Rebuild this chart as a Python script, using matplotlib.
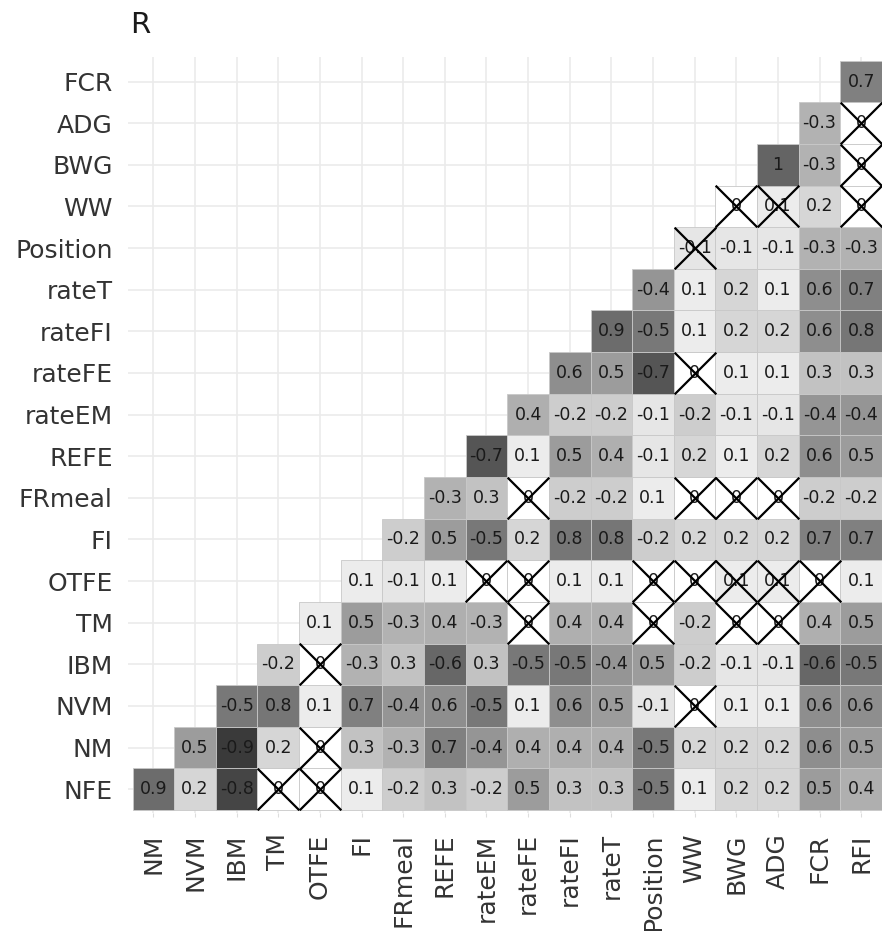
import numpy as np
import matplotlib
matplotlib.use("Agg")
import matplotlib.pyplot as plt
from matplotlib.patches import Rectangle

# Column (x) labels and row (y) labels, bottom row first
cols = ["NM", "NVM", "IBM", "TM", "OTFE", "FI", "FRmeal", "REFE", "rateEM",
        "rateFE", "rateFI", "rateT", "Position", "WW", "BWG", "ADG", "FCR", "RFI"]
rows = ["NFE", "NM", "NVM", "IBM", "TM", "OTFE", "FI", "FRmeal", "REFE",
        "rateEM", "rateFE", "rateFI", "rateT", "Position", "WW", "BWG", "ADG", "FCR"]

# Correlation values; row i covers columns i..17
r_NFE = [0.9, 0.2, -0.8, 0.0, 0.0, 0.1, -0.2, 0.3, -0.2, 0.5, 0.3, 0.3, -0.5, 0.1, 0.2, 0.2, 0.5, 0.4]
r_NM = [0.5, -0.9, 0.2, 0.0, 0.3, -0.3, 0.7, -0.4, 0.4, 0.4, 0.4, -0.5, 0.2, 0.2, 0.2, 0.6, 0.5]
r_NVM = [-0.5, 0.8, 0.1, 0.7, -0.4, 0.6, -0.5, 0.1, 0.6, 0.5, -0.1, 0.0, 0.1, 0.1, 0.6, 0.6]
r_IBM = [-0.2, 0.0, -0.3, 0.3, -0.6, 0.3, -0.5, -0.5, -0.4, 0.5, -0.2, -0.1, -0.1, -0.6, -0.5]
r_TM = [0.1, 0.5, -0.3, 0.4, -0.3, 0.0, 0.4, 0.4, 0.0, -0.2, 0.0, 0.0, 0.4, 0.5]
r_OTFE = [0.1, -0.1, 0.1, 0.0, 0.0, 0.1, 0.1, 0.0, 0.0, 0.1, 0.1, 0.0, 0.1]
r_FI = [-0.2, 0.5, -0.5, 0.2, 0.8, 0.8, -0.2, 0.2, 0.2, 0.2, 0.7, 0.7]
r_FRmeal = [-0.3, 0.3, 0.0, -0.2, -0.2, 0.1, 0.0, 0.0, 0.0, -0.2, -0.2]
r_REFE = [-0.7, 0.1, 0.5, 0.4, -0.1, 0.2, 0.1, 0.2, 0.6, 0.5]
r_rateEM = [0.4, -0.2, -0.2, -0.1, -0.2, -0.1, -0.1, -0.4, -0.4]
r_rateFE = [0.6, 0.5, -0.7, 0.0, 0.1, 0.1, 0.3, 0.3]
r_rateFI = [0.9, -0.5, 0.1, 0.2, 0.2, 0.6, 0.8]
r_rateT = [-0.4, 0.1, 0.2, 0.1, 0.6, 0.7]
r_Position = [-0.1, -0.1, -0.1, -0.3, -0.3]
r_WW = [0.0, 0.1, 0.2, 0.0]
r_BWG = [1.0, -0.3, 0.0]
r_ADG = [-0.3, 0.0]
r_FCR = [0.7]
values = [r_NFE, r_NM, r_NVM, r_IBM, r_TM, r_OTFE, r_FI, r_FRmeal, r_REFE,
          r_rateEM, r_rateFE, r_rateFI, r_rateT, r_Position, r_WW, r_BWG, r_ADG, r_FCR]

# Non-significant cells (crossed), as (row, column)
crossed = [("NFE", "TM"), ("NFE", "OTFE"), ("NM", "OTFE"), ("NVM", "WW"),
           ("IBM", "OTFE"), ("TM", "rateFE"), ("TM", "Position"), ("TM", "BWG"),
           ("TM", "ADG"), ("OTFE", "rateEM"), ("OTFE", "rateFE"), ("OTFE", "Position"),
           ("OTFE", "WW"), ("OTFE", "BWG"), ("OTFE", "ADG"), ("OTFE", "FCR"),
           ("FRmeal", "rateFE"), ("FRmeal", "WW"), ("FRmeal", "BWG"), ("FRmeal", "ADG"),
           ("rateFE", "WW"), ("Position", "WW"), ("WW", "BWG"), ("WW", "ADG"),
           ("WW", "RFI"), ("BWG", "RFI"), ("ADG", "RFI")]

# grey scale of the fill (positive and negative map to different darkness)
anchor_r = [-1.0, -0.9, -0.8, -0.7, -0.5, -0.3, -0.2, -0.1, 0.0, 0.1, 0.2, 0.3, 0.5, 0.7, 0.9, 1.0]
anchor_g = [50, 58, 69, 85, 120, 178, 205, 230, 255, 236, 214, 194, 156, 128, 108, 100]

def fill(r):
    g = np.interp(r, anchor_r, anchor_g) / 255.0
    return (g, g, g)

plt.rcParams['font.family'] = ['DejaVu Sans']
fig = plt.figure(figsize=(8.82, 9.31), dpi=100)
ax = fig.add_axes([128 / 882, (931 - 812.5) / 931, 754 / 882, 755.5 / 931])

crossed_set = set(crossed)
cross_x, cross_y = [], []
for i, row in enumerate(rows):
    for k, v in enumerate(values[i]):
        j = i + k
        ax.add_patch(Rectangle((j - 0.5, i - 0.5), 1, 1, facecolor=fill(v),
                               edgecolor='#c8c8c8', linewidth=0.6, zorder=2))
        lab = f"{v:g}"
        ax.text(j, i, lab, ha='center', va='center', fontsize=12.5,
                color='#1a1a1a', zorder=3)
        if (row, cols[j]) in crossed_set:
            cross_x.append(j)
            cross_y.append(i)

ax.scatter(cross_x, cross_y, marker='x', s=900, c='black', linewidths=1.6, zorder=4)

ax.set_xlim(-0.61, 17.5)
ax.set_ylim(-0.56, 17.59)
ax.set_xticks(range(len(cols)))
ax.set_xticklabels(cols, rotation=90, fontsize=18, color='#333333')
ax.set_yticks(range(len(rows)))
ax.set_yticklabels(rows, fontsize=18, color='#333333')
ax.tick_params(axis='x', length=3, color='#dddddd', pad=12)
ax.tick_params(axis='y', length=0, pad=11)
ax.grid(True, color='#ebebeb', linewidth=1.2, zorder=0)
ax.set_axisbelow(True)
for s in ax.spines.values():
    s.set_visible(False)

fig.text(130 / 882, (931 - 33) / 931, "R", fontsize=21, ha='left', va='baseline', color='#1a1a1a')

fig.savefig("out.png", dpi=100)
